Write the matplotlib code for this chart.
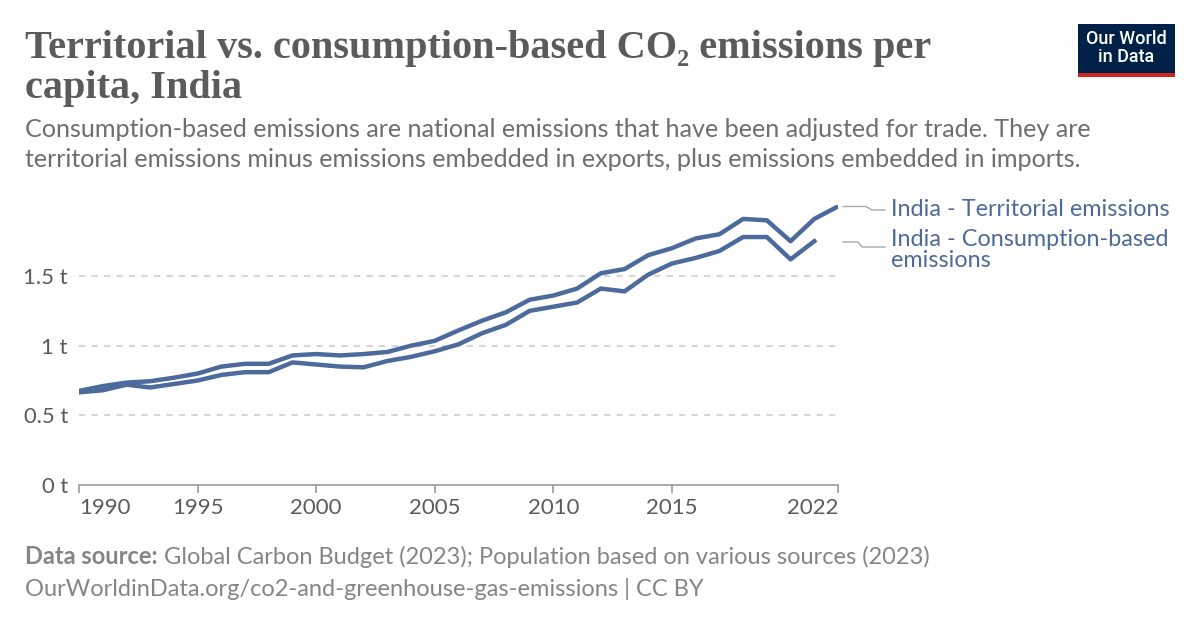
import matplotlib.pyplot as plt
import numpy as np

years = list(range(1990, 2023))
territorial = [0.675, 0.71, 0.735, 0.745, 0.77, 0.80, 0.85, 0.87, 0.87, 0.93,
               0.94, 0.93, 0.94, 0.955, 1.00, 1.035, 1.11, 1.18, 1.24, 1.33,
               1.36, 1.41, 1.52, 1.55, 1.65, 1.70, 1.77, 1.80, 1.91, 1.90,
               1.75, 1.91, 2.00]
cons_years = list(range(1990, 2022))
consumption = [0.665, 0.68, 0.72, 0.70, 0.725, 0.75, 0.79, 0.81, 0.81, 0.88,
               0.865, 0.85, 0.845, 0.89, 0.92, 0.96, 1.01, 1.09, 1.15, 1.25,
               1.28, 1.31, 1.41, 1.39, 1.51, 1.59, 1.63, 1.68, 1.78, 1.78,
               1.62, 1.75]
yticks = [0, 0.5, 1, 1.5]
ytick_labels = ["0 t", "0.5 t", "1 t", "1.5 t"]
xticks = [1990, 1995, 2000, 2005, 2010, 2015, 2022]

line_color = "#4C6A9C"
text_gray = "#5b5b5b"
sans = ["Lato", "DejaVu Sans"]
serif = ["Liberation Serif", "DejaVu Serif"]

fig = plt.figure(figsize=(12, 6.28), dpi=100)
ax = fig.add_axes([79/1200, 1 - 485/628, (838-79)/1200, (485-205)/628])

ax.plot(years, territorial, color=line_color, lw=3.2, solid_joinstyle="round", zorder=3)
ax.plot(cons_years, consumption, color=line_color, lw=3.2, solid_joinstyle="round", zorder=3)

ax.set_xlim(1990, 2022)
ax.set_ylim(0, 2.01)
for s in ["top", "right", "left"]:
    ax.spines[s].set_visible(False)
ax.spines["bottom"].set_color("#999999")
ax.spines["bottom"].set_linewidth(1.2)

for v in yticks[1:]:
    ax.axhline(v, color="#d6d6d6", lw=1.5, linestyle=(0, (3, 3)), zorder=1)

ax.set_yticks(yticks)
ax.set_yticklabels(ytick_labels, fontsize=15.8, color=text_gray, family=sans)
ax.tick_params(axis="y", length=0, pad=8)
ax.set_xticks(xticks)
ax.set_xticklabels([str(x) for x in xticks], fontsize=16, color=text_gray, family=sans)
ax.tick_params(axis="x", length=6, width=1.2, color="#999999", pad=3)
labels = ax.get_xticklabels()
labels[0].set_horizontalalignment("left")
labels[-1].set_horizontalalignment("right")

def fx(px):
    return px / 1200
def fy(py):
    return 1 - py / 628

# end labels with connectors
fig.add_artist(plt.Line2D([fx(843), fx(866), fx(872), fx(885)],
                          [fy(206.5), fy(206.5), fy(210), fy(210)],
                          color="#aaaaaa", lw=1))
fig.add_artist(plt.Line2D([fx(843), fx(858), fx(862), fx(885)],
                          [fy(242), fy(242), fy(247), fy(247)],
                          color="#aaaaaa", lw=1))
fig.text(fx(891), fy(210), "India - Territorial emissions", fontsize=16.8,
         color=line_color, family=sans, va="center")
fig.text(fx(891), fy(250), "India - Consumption-based\nemissions", fontsize=16.8,
         color=line_color, family=sans, va="center", linespacing=1.05)

# title and subtitle
fig.text(fx(25), fy(58), "Territorial vs. consumption-based CO\u2082 emissions per",
         fontsize=29, fontweight="bold", color=text_gray, family=serif, va="baseline")
fig.text(fx(25), fy(98), "capita, India",
         fontsize=29, fontweight="bold", color=text_gray, family=serif, va="baseline")
fig.text(fx(25), fy(137), "Consumption-based emissions are national emissions that have been adjusted for trade. They are",
         fontsize=18.1, color="#6e6e6e", family=sans, va="baseline")
fig.text(fx(25), fy(167), "territorial emissions minus emissions embedded in exports, plus emissions embedded in imports.",
         fontsize=18.1, color="#6e6e6e", family=sans, va="baseline")

# footer
src = fig.text(fx(25), fy(564), "Data source:", fontsize=17, fontweight="bold",
               color="#858585", family=sans, va="baseline")
fig.canvas.draw()
bb = src.get_window_extent()
fig.text(bb.x1 / 1200 + fx(6), fy(564),
         "Global Carbon Budget (2023); Population based on various sources (2023)",
         fontsize=17, color="#858585", family=sans, va="baseline")
fig.text(fx(25), fy(596), "OurWorldinData.org/co2-and-greenhouse-gas-emissions | CC BY",
         fontsize=17, color="#858585", family=sans, va="baseline")

# logo
fig.add_artist(plt.Rectangle((fx(1078), fy(77)), fx(97), 53/628,
                             facecolor="#002147", edgecolor="none"))
fig.add_artist(plt.Rectangle((fx(1078), fy(77)), fx(97), 4/628,
                             facecolor="#ce261e", edgecolor="none"))
fig.text(fx(1126.5), fy(48), "Our World\nin Data", fontsize=13, fontweight="medium",
         color="white", family=["Roboto", "DejaVu Sans"], ha="center", va="center",
         linespacing=1.0)

fig.savefig("out.png", dpi=100, facecolor="white")
